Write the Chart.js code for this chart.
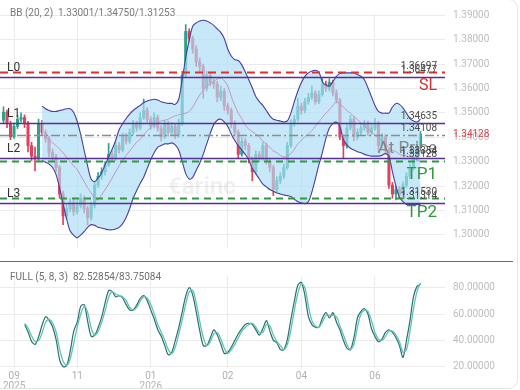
<!DOCTYPE html>
<html>
<head>
<meta charset="utf-8">
<script src="https://cdn.jsdelivr.net/npm/chart.js@4.4.1/dist/chart.umd.min.js"></script>
<style>
html, body { margin: 0; padding: 0; background: #fff; overflow: hidden; }
#wrap { position: relative; width: 520px; height: 390px; }
#card { position: absolute; left: -12px; top: -1px; width: 530px; height: 390px; border: 1px solid #e4e4e4; border-radius: 9px; box-sizing: border-box; pointer-events: none; }
#mainBox { position: absolute; left: 0; top: 0; width: 520px; height: 262px; }
#oscBox { position: absolute; left: 0; top: 262px; width: 520px; height: 128px; }
#sep { position: absolute; left: 0; top: 261px; width: 513px; border-top: 1.5px solid #6f6f6f; }
</style>
</head>
<body>
<div id="wrap">
  <div id="mainBox"><canvas id="mainChart"></canvas></div>
  <div id="oscBox"><canvas id="oscChart"></canvas></div>
  <div id="sep"></div>
  <div id="card"></div>
</div>
<script>
// slots on the time axis, candles start at slot 1
const slotCount = 128;
const slots = Array.from({ length: slotCount }, (_, i) => i);
const candleStart = 1;
const bbStart = 12;
const stochStart = 7;

const firstOpen = 1.3470;
const closes = [
  1.3503,1.3456,1.3402,1.3445,1.3474,1.3481,1.3456,1.3366,1.3323,1.3312,
  1.3456,1.3420,1.3395,1.3337,1.3319,1.3276,1.3168,1.3078,1.3107,1.3132,
  1.3096,1.3121,1.3150,1.3107,1.3071,1.3121,1.3204,1.3240,1.3258,1.3287,
  1.3330,1.3312,1.3366,1.3348,1.3402,1.3384,1.3420,1.3456,1.3438,1.3481,
  1.3510,1.3474,1.3445,1.3481,1.3438,1.3402,1.3456,1.3420,1.3445,1.3409,
  1.3456,1.3654,1.3834,1.3805,1.3762,1.3708,1.3690,1.3600,1.3654,1.3625,
  1.3618,1.3564,1.3589,1.3528,1.3510,1.3456,1.3420,1.3330,1.3384,1.3366,
  1.3312,1.3258,1.3330,1.3312,1.3366,1.3301,1.3276,1.3186,1.3222,1.3240,
  1.3276,1.3366,1.3456,1.3474,1.3528,1.3510,1.3546,1.3564,1.3582,1.3546,
  1.3575,1.3618,1.3600,1.3625,1.3582,1.3553,1.3402,1.3366,1.3438,1.3474,
  1.3402,1.3420,1.3438,1.3456,1.3420,1.3438,1.3456,1.3366,1.3402,1.3348,
  1.3204,1.3168,1.3186,1.3168,1.3204,1.3240,1.3276,1.3312,1.3366,1.3413
];
const highs = [
  1.3525,1.3512,1.3466,1.3458,1.3490,1.3500,1.3492,1.3465,1.3380,1.3360,
  1.3474,1.3470,1.3430,1.3405,1.3352,1.3330,1.3285,1.3180,1.3125,1.3150,
  1.3145,1.3140,1.3168,1.3160,1.3118,1.3135,1.3220,1.3255,1.3275,1.3300,
  1.3375,1.3345,1.3380,1.3378,1.3418,1.3415,1.3435,1.3470,1.3466,1.3500,
  1.3557,1.3522,1.3485,1.3500,1.3492,1.3448,1.3470,1.3466,1.3460,1.3455,
  1.3475,1.3670,1.3862,1.3845,1.3815,1.3775,1.3725,1.3700,1.3670,1.3668,
  1.3640,1.3630,1.3610,1.3600,1.3540,1.3520,1.3468,1.3430,1.3400,1.3395,
  1.3375,1.3320,1.3345,1.3342,1.3380,1.3375,1.3310,1.3285,1.3238,1.3255,
  1.3290,1.3380,1.3472,1.3490,1.3560,1.3540,1.3560,1.3580,1.3610,1.3592,
  1.3590,1.3640,1.3630,1.3640,1.3635,1.3595,1.3560,1.3410,1.3452,1.3490,
  1.3485,1.3435,1.3455,1.3470,1.3466,1.3452,1.3478,1.3465,1.3415,1.3412,
  1.3355,1.3215,1.3200,1.3198,1.3218,1.3255,1.3290,1.3325,1.3380,1.3425
];
const lows = [
  1.3460,1.3440,1.3390,1.3395,1.3436,1.3462,1.3440,1.3340,1.3305,1.3262,
  1.3300,1.3410,1.3380,1.3320,1.3300,1.3260,1.3150,1.3042,1.3065,1.3095,
  1.3080,1.3085,1.3110,1.3090,1.3042,1.3060,1.3110,1.3195,1.3228,1.3245,
  1.3280,1.3300,1.3305,1.3335,1.3340,1.3372,1.3375,1.3410,1.3425,1.3430,
  1.3472,1.3462,1.3432,1.3438,1.3425,1.3385,1.3395,1.3405,1.3410,1.3395,
  1.3400,1.3448,1.3645,1.3790,1.3745,1.3690,1.3670,1.3560,1.3590,1.3610,
  1.3600,1.3545,1.3550,1.3510,1.3495,1.3440,1.3405,1.3316,1.3322,1.3350,
  1.3295,1.3222,1.3250,1.3300,1.3305,1.3290,1.3260,1.3161,1.3175,1.3210,
  1.3230,1.3268,1.3358,1.3445,1.3465,1.3495,1.3500,1.3535,1.3555,1.3535,
  1.3538,1.3568,1.3588,1.3590,1.3570,1.3540,1.3390,1.3312,1.3355,1.3430,
  1.3385,1.3390,1.3410,1.3428,1.3408,1.3410,1.3428,1.3340,1.3355,1.3335,
  1.3190,1.3150,1.3143,1.3152,1.3160,1.3195,1.3230,1.3265,1.3302,1.3358
];

// Bollinger (20, 2)
const bbUpper = [
  1.3528,1.3517,1.3510,1.3506,1.3506,1.3510,1.3513,1.3517,1.3517,1.3503,
  1.3467,1.3413,1.3348,1.3283,1.3229,1.3218,1.3233,1.3254,1.3287,1.3319,
  1.3351,1.3387,1.3431,1.3456,1.3477,1.3495,1.3510,1.3521,1.3531,1.3542,
  1.3549,1.3553,1.3556,1.3553,1.3546,1.3542,1.3539,1.3539,1.3535,1.3556,
  1.3636,1.3726,1.3798,1.3855,1.3869,1.3877,1.3880,1.3877,1.3869,1.3859,
  1.3844,1.3830,1.3805,1.3762,1.3733,1.3718,1.3715,1.3697,1.3668,1.3636,
  1.3603,1.3567,1.3546,1.3531,1.3510,1.3488,1.3474,1.3470,1.3467,1.3463,
  1.3467,1.3499,1.3546,1.3589,1.3625,1.3650,1.3664,1.3672,1.3675,1.3668,
  1.3628,1.3614,1.3610,1.3628,1.3650,1.3661,1.3664,1.3664,1.3664,1.3664,
  1.3657,1.3650,1.3636,1.3603,1.3567,1.3531,1.3506,1.3499,1.3499,1.3499,
  1.3524,1.3539,1.3535,1.3521,1.3499,1.3477,1.3467,1.3463,1.3475
];
const bbMiddle = [
  1.3413,1.3402,1.3391,1.3377,1.3366,1.3351,1.3337,1.3319,1.3301,1.3283,
  1.3269,1.3244,1.3218,1.3193,1.3172,1.3150,1.3143,1.3164,1.3186,1.3208,
  1.3233,1.3258,1.3283,1.3305,1.3326,1.3344,1.3362,1.3380,1.3391,1.3409,
  1.3427,1.3441,1.3452,1.3459,1.3467,1.3470,1.3474,1.3481,1.3488,1.3492,
  1.3495,1.3499,1.3506,1.3524,1.3549,1.3574,1.3592,1.3610,1.3621,1.3628,
  1.3639,1.3643,1.3632,1.3610,1.3567,1.3531,1.3499,1.3477,1.3449,1.3434,
  1.3423,1.3413,1.3402,1.3384,1.3373,1.3359,1.3344,1.3337,1.3326,1.3319,
  1.3323,1.3333,1.3351,1.3373,1.3387,1.3402,1.3413,1.3427,1.3445,1.3463,
  1.3481,1.3499,1.3513,1.3531,1.3546,1.3535,1.3524,1.3510,1.3499,1.3485,
  1.3474,1.3459,1.3449,1.3434,1.3423,1.3409,1.3398,1.3384,1.3373,1.3359,
  1.3348,1.3341,1.3330,1.3326,1.3323,1.3319,1.3315,1.3308,1.3300
];
const bbLower = [
  1.3305,1.3298,1.3290,1.3276,1.3247,1.3193,1.3128,1.3067,1.3017,1.2999,
  1.2988,1.2999,1.3013,1.3031,1.3042,1.3039,1.3031,1.3028,1.3024,1.3021,
  1.3021,1.3024,1.3031,1.3046,1.3071,1.3107,1.3150,1.3182,1.3211,1.3236,
  1.3272,1.3308,1.3337,1.3359,1.3366,1.3373,1.3373,1.3377,1.3369,1.3348,
  1.3301,1.3251,1.3229,1.3236,1.3265,1.3294,1.3330,1.3373,1.3416,1.3452,
  1.3470,1.3474,1.3463,1.3445,1.3413,1.3387,1.3366,1.3348,1.3330,1.3308,
  1.3272,1.3251,1.3229,1.3208,1.3197,1.3186,1.3179,1.3172,1.3168,1.3164,
  1.3161,1.3157,1.3146,1.3136,1.3132,1.3128,1.3136,1.3175,1.3229,1.3287,
  1.3337,1.3395,1.3438,1.3456,1.3463,1.3445,1.3391,1.3369,1.3355,1.3348,
  1.3341,1.3337,1.3330,1.3326,1.3323,1.3323,1.3323,1.3326,1.3333,1.3323,
  1.3258,1.3200,1.3154,1.3136,1.3125,1.3125,1.3125,1.3125,1.3125
];

// stochastic FULL (5, 8, 3)
const stochK = [
  52,46,39,37,43,52,58,55,50,40,
  25,20,21,32,47,54,66,67,54,43,
  44,50,58,69,78,77,73,74,72,67,
  63,63,67,72,74,70,63,56,48,43,
  36,29,31,40,50,62,74,80,74,61,
  47,36,36,42,48,44,37,30,31,35,
  40,45,49,52,53,52,48,44,49,55,
  47,40,38,33,33,41,56,70,82,84,
  74,58,52,50,50,57,61,57,61,54,
  48,40,34,33,42,57,62,64,60,49,
  43,39,41,46,48,46,42,36,27,40,
  55,73,81,82.53
];
const stochD = [
  53,49,43,39,40,46,54,56,53,46,
  33,24,21,26,38,50,60,66,61,49,
  44,47,54,63,73,77,75,74,73,70,
  65,63,65,70,73,72,67,60,52,46,
  40,33,30,35,45,56,68,77,78,68,
  54,42,36,39,45,46,41,34,30,33,
  37,42,47,50,52,53,50,46,46,52,
  51,44,39,36,33,37,48,63,76,83,
  80,66,55,51,50,54,59,59,59,58,
  51,44,37,33,37,50,60,63,62,55,
  46,41,40,43,47,47,44,39,31,33,
  47,64,77,83.75
];

// horizontal trade levels
const levelValues = [1.3666, 1.3648, 1.3459, 1.3411, 1.3316, 1.3304, 1.3150, 1.3131];
const levelKinds  = ['stop', 'band', 'band', 'price', 'band', 'target', 'target', 'band'];
const levelTexts  = ['1.36697', '1.36477', '1.34635', '1.34108', '1.33354', '1.33128', '1.31530', '1.31314'];
const levelTags   = ['SL', '', '', 'At Price', '', 'TP1', 'TP2', ''];
const levelNames  = ['', 'L0', 'L1', '', 'L2', '', '', 'L3'];
const lastPrice = 1.34128;
const bbTitle = 'BB (20, 2)';
const bbValues = '1.33001/1.34750/1.31253';
const stochTitle = 'FULL (5, 8, 3)';
const stochValues = '82.52854/83.75084';

const priceTicks = [1.30, 1.31, 1.32, 1.33, 1.34, 1.35, 1.36, 1.37, 1.38, 1.39];
const stochTicks = [20, 40, 60, 80];
const tickPos  = [4, 22, 43, 65, 86, 107];
const tickText = [['09', '2025'], '11', ['01', '2026'], '02', '04', '06'];

const levelStyle = {
  stop:   { color: '#e0302c', width: 2,   dash: [8, 5], tag: '#d92b2b', tagFont: '16px Roboto' },
  band:   { color: '#5a2c9c', width: 1.3, dash: [] },
  price:  { color: '#8c8c8c', width: 1.3, dash: [9, 3, 2, 3], tag: 'rgba(120,120,120,0.85)', tagFont: '17px Roboto' },
  target: { color: '#2e9a3b', width: 2,   dash: [7, 5], tag: '#2e9a3b', tagFont: '17px Roboto' }
};

Chart.defaults.font.family = 'Roboto, "Noto Sans", sans-serif';

function pad(arr, start) {
  const out = new Array(slotCount).fill(null);
  arr.forEach((v, k) => { out[start + k] = v; });
  return out;
}

const opens = [firstOpen].concat(closes.slice(0, -1));
const candleColors = pad(closes.map((c, k) => c >= opens[k] ? '#2aa38d' : '#e0405b'), candleStart);
const bodyData = pad(closes.map((c, k) => [opens[k], c]), candleStart);
const wickData = pad(highs.map((h, k) => [lows[k], h]), candleStart);

const fixTicks = list => scale => { scale.ticks = list.map(v => ({ value: v })); };

const mainOverlay = {
  id: 'mainOverlay',
  beforeDatasetsDraw(chart) {
    const ctx = chart.ctx;
    ctx.save();
    ctx.font = 'bold 24px Roboto';
    ctx.fillStyle = 'rgba(0,0,0,0.06)';
    ctx.textBaseline = 'middle';
    ctx.fillText('€arinc', 168, 188);
    ctx.restore();
  },
  afterDatasetsDraw(chart) {
    const { ctx, chartArea } = chart;
    const y = chart.scales.y;
    ctx.save();
    levelValues.forEach((v, k) => {
      const st = levelStyle[levelKinds[k]];
      const py = Math.round(y.getPixelForValue(v)) + 0.5;
      ctx.beginPath();
      ctx.setLineDash(st.dash);
      ctx.lineWidth = st.width;
      ctx.strokeStyle = st.color;
      ctx.moveTo(chartArea.left, py);
      ctx.lineTo(chartArea.right, py);
      ctx.stroke();
    });
    ctx.setLineDash([]);
    ctx.textBaseline = 'middle';
    ctx.textAlign = 'right';
    levelValues.forEach((v, k) => {
      if (!levelTags[k]) return;
      const st = levelStyle[levelKinds[k]];
      ctx.font = st.tagFont;
      ctx.fillStyle = st.tag;
      ctx.fillText(levelTags[k], 437, y.getPixelForValue(v) + 14);
    });
    ctx.font = '10px Roboto';
    ctx.fillStyle = '#474747';
    levelValues.forEach((v, k) => {
      ctx.fillText(levelTexts[k], 437, y.getPixelForValue(v) - 6);
    });
    ctx.textAlign = 'left';
    ctx.font = '12px Roboto';
    ctx.fillStyle = '#333';
    levelValues.forEach((v, k) => {
      if (levelNames[k]) ctx.fillText(levelNames[k], 7, y.getPixelForValue(v) - 9);
    });
    ctx.restore();
  },
  afterDraw(chart) {
    const ctx = chart.ctx;
    const y = chart.scales.y;
    ctx.save();
    ctx.textBaseline = 'middle';
    ctx.font = '10px Roboto';
    ctx.fillStyle = '#7a7a7a';
    ctx.fillText(bbTitle, 10, 13);
    ctx.fillText(bbValues, 58, 13);
    ctx.fillStyle = '#e0404a';
    ctx.fillText(lastPrice.toFixed(5), 453, y.getPixelForValue(lastPrice));
    ctx.restore();
  }
};

new Chart(document.getElementById('mainChart'), {
  type: 'bar',
  data: {
    labels: slots,
    datasets: [
      { type: 'bar', data: wickData, backgroundColor: candleColors, barThickness: 1, grouped: false, order: 6 },
      { type: 'bar', data: bodyData, backgroundColor: candleColors, barThickness: 2.4, minBarLength: 1, grouped: false, order: 5 },
      { type: 'line', data: pad(bbLower, bbStart), borderColor: '#4a3e9d', borderWidth: 1.1, pointRadius: 0, tension: 0.3, fill: false, order: 1 },
      { type: 'line', data: pad(bbUpper, bbStart), borderColor: '#4a3e9d', borderWidth: 1.1, pointRadius: 0, tension: 0.3,
        fill: '-1', backgroundColor: 'rgba(172,221,245,0.68)', order: 2 },
      { type: 'line', data: pad(bbMiddle, bbStart), borderColor: '#c294c6', borderWidth: 1, pointRadius: 0, tension: 0.3, fill: false, order: 0 }
    ]
  },
  options: {
    responsive: true,
    maintainAspectRatio: false,
    animation: false,
    layout: { padding: 0 },
    plugins: { legend: { display: false }, tooltip: { enabled: false } },
    scales: {
      x: {
        offset: false,
        grid: { color: '#ebebeb', drawTicks: false, offset: false },
        border: { display: false },
        ticks: { display: false },
        afterBuildTicks: fixTicks(tickPos),
        afterFit: s => { s.height = 0; }
      },
      y: {
        position: 'right',
        min: 1.29463,
        max: 1.39054,
        afterBuildTicks: fixTicks(priceTicks),
        afterFit: s => { s.width = 75; },
        grid: { color: '#ebebeb', drawTicks: false },
        border: { display: false },
        ticks: { padding: 8, color: '#bdbdbd', font: { size: 10 }, callback: v => v.toFixed(5) }
      }
    }
  },
  plugins: [mainOverlay]
});

const oscOverlay = {
  id: 'oscOverlay',
  afterDraw(chart) {
    const ctx = chart.ctx;
    ctx.save();
    ctx.textBaseline = 'middle';
    ctx.font = '10px Roboto';
    ctx.fillStyle = '#6f6f6f';
    ctx.fillText(stochTitle, 10, 15);
    ctx.fillText(stochValues, 73, 15);
    ctx.restore();
  }
};

new Chart(document.getElementById('oscChart'), {
  type: 'line',
  data: {
    labels: slots,
    datasets: [
      { data: pad(stochD, stochStart), borderColor: '#5cc6b2', borderWidth: 1.3, pointRadius: 0, tension: 0.3 },
      { data: pad(stochK, stochStart), borderColor: '#2c6c73', borderWidth: 1.2, pointRadius: 0, tension: 0.3 }
    ]
  },
  options: {
    responsive: true,
    maintainAspectRatio: false,
    animation: false,
    layout: { padding: 0 },
    plugins: { legend: { display: false }, tooltip: { enabled: false } },
    scales: {
      x: {
        offset: false,
        grid: { color: '#ebebeb', drawTicks: false },
        border: { display: false },
        afterBuildTicks: fixTicks(tickPos),
        afterFit: s => { s.height = 22; },
        ticks: {
          padding: 3, color: '#b0b0b0', maxRotation: 0, autoSkip: false,
          font: { size: 10, lineHeight: 1 },
          callback: v => tickText[tickPos.indexOf(v)]
        }
      },
      y: {
        position: 'right',
        min: 19.0,
        max: 88.9,
        afterBuildTicks: fixTicks(stochTicks),
        afterFit: s => { s.width = 75; },
        grid: { color: '#ebebeb', drawTicks: false },
        border: { display: false },
        ticks: { padding: 8, color: '#bdbdbd', font: { size: 10 }, callback: v => v.toFixed(5) }
      }
    }
  },
  plugins: [oscOverlay]
});
</script>
</body>
</html>
